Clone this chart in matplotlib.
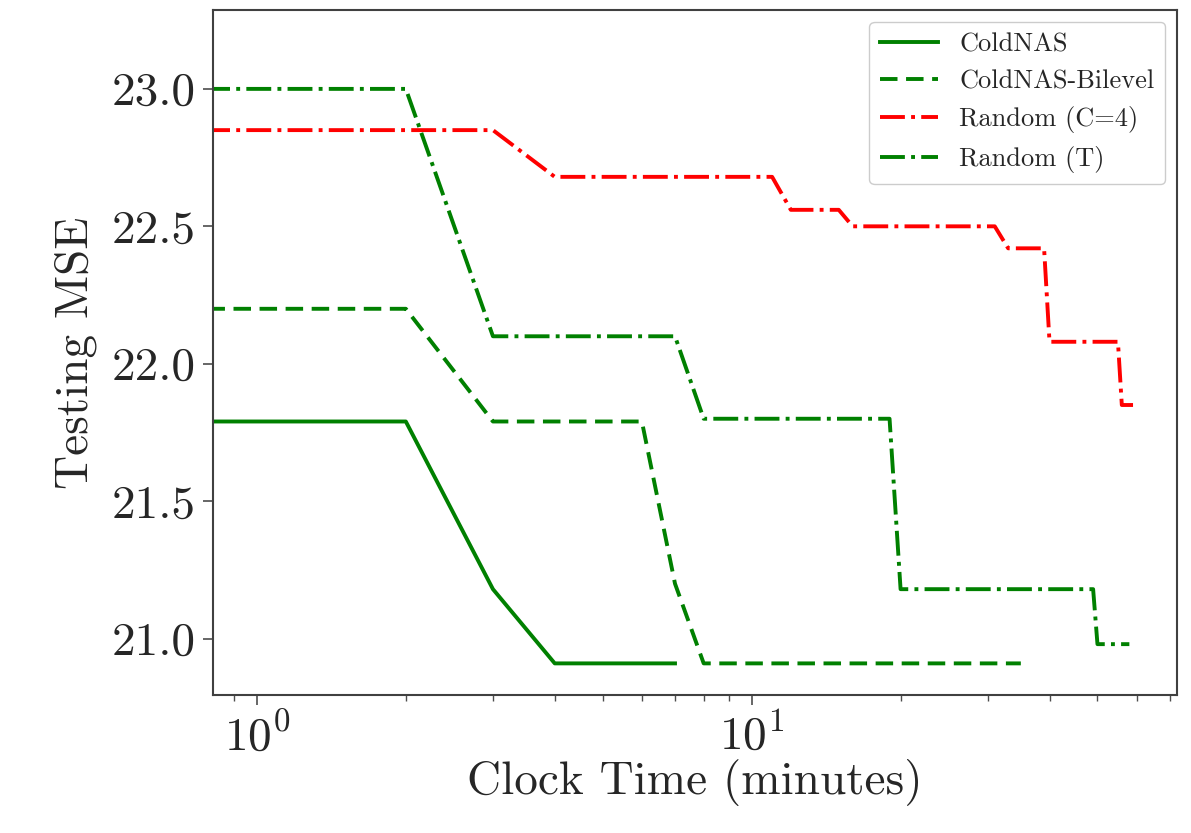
import matplotlib.pyplot as plt


plt.rcParams["font.family"] = "cmr10"
plt.rcParams["mathtext.fontset"] = "cm"
plt.rcParams["axes.formatter.use_mathtext"] = True
plt.rcParams["text.color"] = "0.15"
plt.rcParams["axes.labelcolor"] = "0.15"
plt.rcParams["xtick.labelcolor"] = "0.15"
plt.rcParams["ytick.labelcolor"] = "0.15"


# clock time (minutes) and testing MSE for each method
coldnas_time = [0, 2, 3, 4, 7]
coldnas_mse = [21.79, 21.79, 21.18, 20.91, 20.91]

bilevel_time = [0, 2, 3, 6, 7, 8, 35]
bilevel_mse = [22.2, 22.2, 21.79, 21.79, 21.2, 20.91, 20.91]

random_c4_time = [0, 3, 4, 11, 12, 15, 16, 31, 33, 39, 40, 55, 56, 59]
random_c4_mse = [22.85, 22.85, 22.68, 22.68, 22.56, 22.56, 22.5,
                 22.5, 22.42, 22.42, 22.08, 22.08, 21.85, 21.85]

random_t_time = [0, 2, 3, 7, 8, 19, 20, 49, 50, 58]
random_t_mse = [23.0, 23.0, 22.1, 22.1, 21.8, 21.8, 21.18, 21.18,
                20.98, 20.98]

y_ticks = [21.0, 21.5, 22.0, 22.5, 23.0]


fig = plt.figure(figsize=(11.91, 8.33), dpi=100)
ax = fig.add_axes([0.179, 0.166, 0.809, 0.822])

lw = 2.8

ax.plot(coldnas_time, coldnas_mse, color="green", linestyle="-",
        linewidth=lw, label="ColdNAS")
ax.plot(bilevel_time, bilevel_mse, color="green",
        linestyle=(0, (4.5, 2.2)), linewidth=lw, label="ColdNAS-Bilevel")
ax.plot(random_c4_time, random_c4_mse, color="red", linestyle="-.",
        linewidth=lw, label="Random (C=4)")
ax.plot(random_t_time, random_t_mse, color="green", linestyle="-.",
        linewidth=lw, label="Random (T)")

ax.set_xscale("log")
ax.set_xlim(0.816, 72.3)
ax.set_ylim(20.796, 23.287)
ax.set_yticks(y_ticks)
ax.set_yticklabels([f"{v:.1f}" for v in y_ticks])

ax.set_xlabel("Clock Time (minutes)", fontsize=34, labelpad=0)
ax.set_ylabel("Testing MSE", fontsize=34, labelpad=10)

ax.tick_params(axis="both", which="major", labelsize=34, length=7,
               width=1.2, color="0.3", pad=6)
ax.tick_params(axis="both", which="minor", length=4, width=1.0,
               color="0.3")

for spine in ax.spines.values():
    spine.set_color("0.25")
    spine.set_linewidth(1.5)

leg = ax.legend(loc="upper right", fontsize=19, handlelength=2.2,
                borderaxespad=0.45, framealpha=1.0, fancybox=True)
leg.get_frame().set_edgecolor("0.8")

fig.savefig("out.png", dpi=100)
